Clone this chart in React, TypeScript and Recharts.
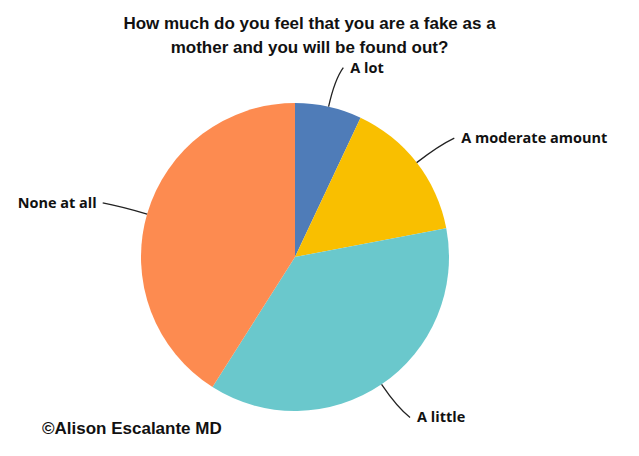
import React from 'react';
import { PieChart, Pie, Cell } from 'recharts';

// survey answers, percent of respondents
const answers = ['A lot', 'A moderate amount', 'A little', 'None at all'];
const shares = [7, 15, 37, 41];
const colors = ['#4f7cb8', '#f9bf00', '#6ac8cc', '#fd8b50'];

const data = answers.map((name, i) => ({ name, value: shares[i] }));

const RADIAN = Math.PI / 180;

const renderLabel = (props: any) => {
  const { cx, cy, midAngle, outerRadius, name } = props;
  const cos = Math.cos(-midAngle * RADIAN);
  const sin = Math.sin(-midAngle * RADIAN);
  const sx = cx + outerRadius * cos;
  const sy = cy + outerRadius * sin;
  const mx = cx + (outerRadius + 28) * cos;
  const my = cy + (outerRadius + 28) * sin;
  const ex = cx + (outerRadius + 40) * cos + (cos >= 0 ? 6 : -6);
  const ey = cy + (outerRadius + 40) * sin;
  const anchor = cos >= 0 ? 'start' : 'end';
  return (
    <g>
      <path d={`M${sx},${sy} Q${mx},${my} ${ex},${ey}`} stroke="#222" strokeWidth={1.3} fill="none" />
      <text
        x={ex + (cos >= 0 ? 7 : -6)}
        y={ey}
        dy={5}
        textAnchor={anchor}
        fill="#111"
        style={{ fontFamily: '"Open Sans", sans-serif', fontWeight: 700, fontSize: 14.5 }}
      >
        {name}
      </text>
    </g>
  );
};

const App: React.FC = () => {
  return (
    <div style={{ position: 'relative', width: 639, height: 456, background: '#fff' }}>
      <style>{'body{margin:0}'}</style>
      <div
        style={{
          position: 'absolute',
          top: 12,
          left: 0,
          width: 619,
          textAlign: 'center',
          fontFamily: '"Liberation Sans", Arial, sans-serif',
          fontWeight: 700,
          fontSize: 17,
          lineHeight: '24px',
          color: '#111',
        }}
      >
        How much do you feel that you are a fake as a<br />
        mother and you will be found out?
      </div>
      <PieChart width={639} height={456} margin={{ top: 0, right: 0, bottom: 0, left: 0 }}>
        <Pie
          data={data}
          dataKey="value"
          nameKey="name"
          cx={295}
          cy={257}
          outerRadius={154}
          startAngle={90}
          endAngle={-270}
          stroke="none"
          label={renderLabel}
          labelLine={false}
          isAnimationActive={false}
        >
          {data.map((d, i) => (
            <Cell key={d.name} fill={colors[i]} />
          ))}
        </Pie>
      </PieChart>
      <div
        style={{
          position: 'absolute',
          top: 419,
          left: 42,
          fontFamily: '"Liberation Sans", Arial, sans-serif',
          fontWeight: 700,
          fontSize: 17,
          color: '#111',
        }}
      >
        ©Alison Escalante MD
      </div>
    </div>
  );
};

export default App;
